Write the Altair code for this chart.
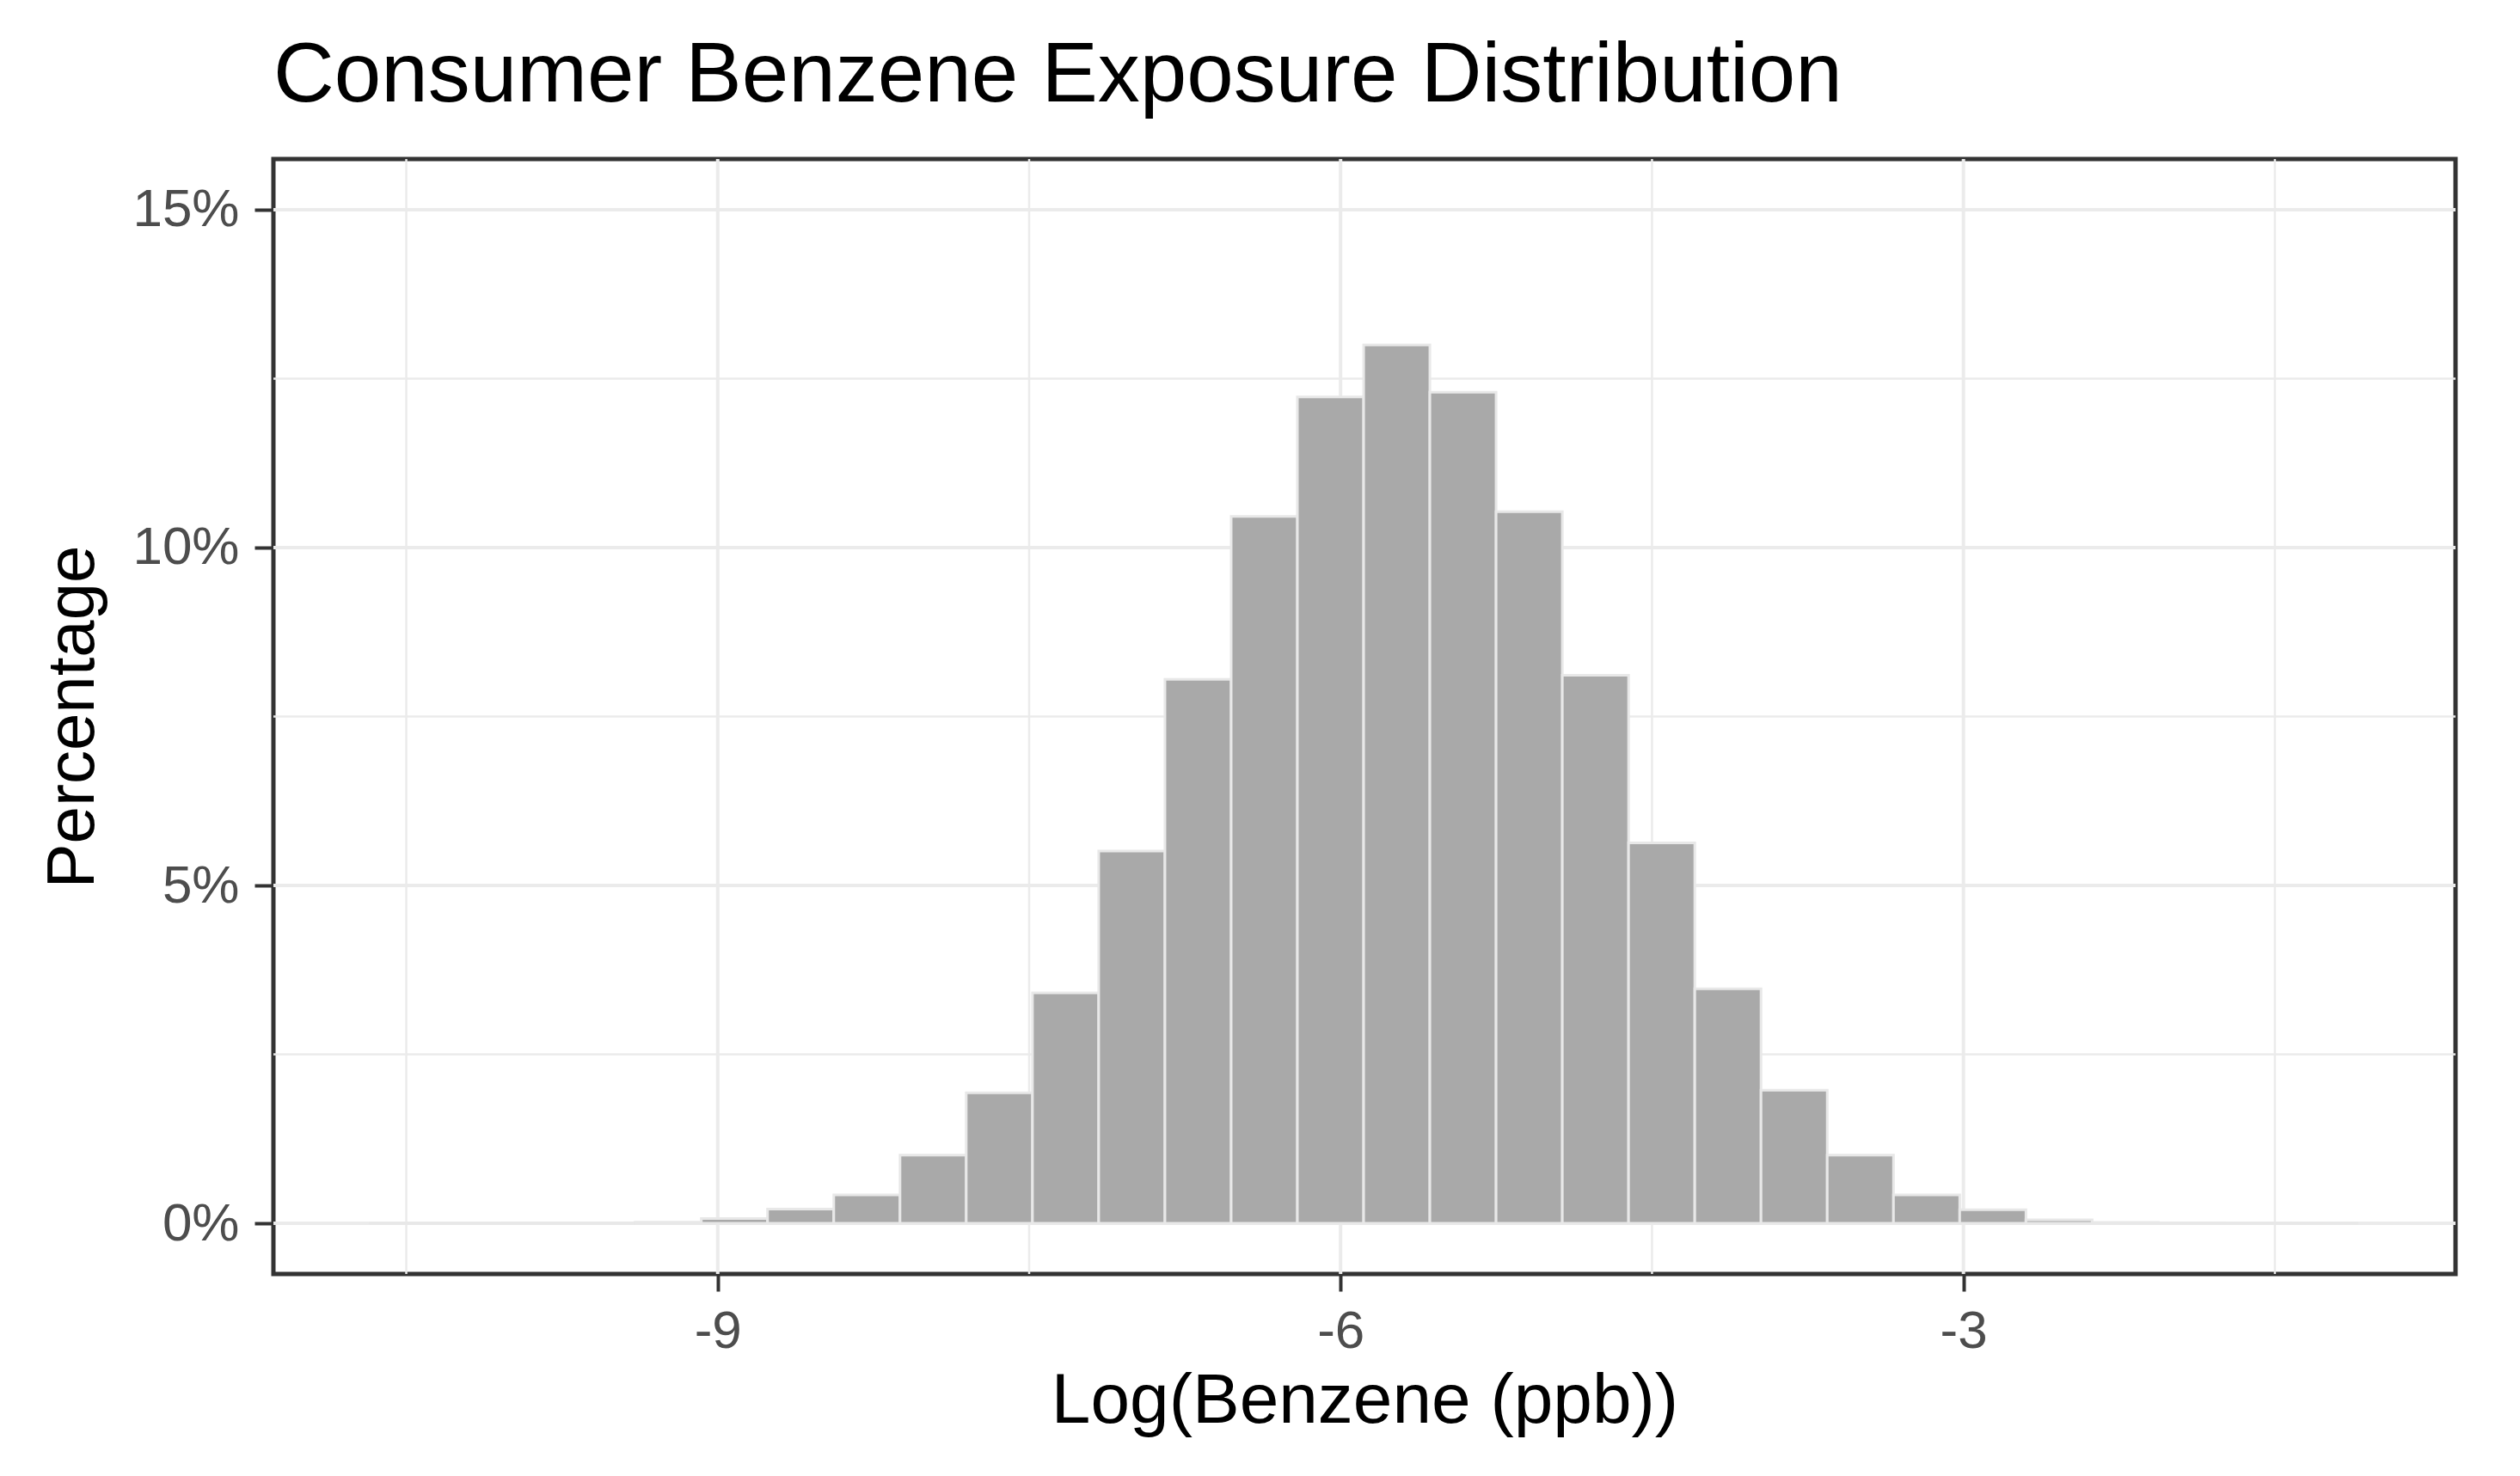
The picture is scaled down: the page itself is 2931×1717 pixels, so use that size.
import altair as alt
import pandas as pd

# Histogram bins (30 bins)
BIN_START = -10.674
BIN_WIDTH = 0.319
PERCENT = [0.002, 0.003, 0.005, 0.008, 0.015, 0.07, 0.21, 0.42, 1.01, 1.93,
           3.41, 5.51, 8.05, 10.46, 12.23, 13.0, 12.30, 10.53, 8.11, 5.63,
           3.47, 1.97, 1.01, 0.42, 0.20, 0.05, 0.012, 0.006, 0.003, 0.002]

X_MAJOR = [-9, -6, -3]
X_MINOR = [-10.5, -7.5, -4.5, -1.5]
Y_MAJOR = [0, 5, 10, 15]
Y_MINOR = [2.5, 7.5, 12.5]

TITLE = "Consumer Benzene Exposure Distribution"
X_TITLE = "Log(Benzene (ppb))"
Y_TITLE = "Percentage"

FONT = "Liberation Sans"
W, H = 2538, 1297

df = pd.DataFrame({
    "start": [BIN_START + i * BIN_WIDTH for i in range(len(PERCENT))],
    "end": [BIN_START + (i + 1) * BIN_WIDTH for i in range(len(PERCENT))],
    "pct": PERCENT,
    "base": [0.0] * len(PERCENT),
})

xscale = alt.Scale(domain=[-11.14, -0.63], nice=False, zero=False)
yscale = alt.Scale(domain=[-0.75, 15.75], nice=False, zero=False)

xaxis = alt.Axis(
    values=X_MAJOR, title=X_TITLE, grid=False, domain=False,
    ticks=True, tickSize=20, tickWidth=4, tickColor="#333333",
    labelExpr="datum.value + ''", labelFont=FONT, labelFontSize=62,
    labelColor="#4D4D4D", labelPadding=16,
    titleFont=FONT, titleFontSize=82, titleFontWeight="normal", titleColor="#000000",
    titleX=W / 2, titleY=172, titleBaseline="alphabetic", titleAlign="center")
yaxis = alt.Axis(
    values=Y_MAJOR, title=Y_TITLE, grid=False, domain=False,
    ticks=True, tickSize=22, tickWidth=4, tickColor="#333333",
    labelExpr="datum.value + '%'", labelFont=FONT, labelFontSize=62,
    labelColor="#4D4D4D", labelPadding=18,
    titleFont=FONT, titleFontSize=78, titleFontWeight="normal", titleColor="#000000",
    titleX=-210, titleY=H / 2, titleBaseline="alphabetic", titleAlign="center",
    titleAngle=270)

GRID = "#EBEBEB"

vminor = alt.Chart(pd.DataFrame({"gx": X_MINOR})).mark_rule(color=GRID, strokeWidth=2.5).encode(
    x=alt.X("gx:Q", scale=xscale, axis=xaxis))
vmajor = alt.Chart(pd.DataFrame({"gx": X_MAJOR})).mark_rule(color=GRID, strokeWidth=4).encode(
    x=alt.X("gx:Q", scale=xscale, axis=xaxis))
hminor = alt.Chart(pd.DataFrame({"gy": Y_MINOR})).mark_rule(color=GRID, strokeWidth=2.5).encode(
    y=alt.Y("gy:Q", scale=yscale, axis=yaxis))
hmajor = alt.Chart(pd.DataFrame({"gy": Y_MAJOR})).mark_rule(color=GRID, strokeWidth=4).encode(
    y=alt.Y("gy:Q", scale=yscale, axis=yaxis))

bars = alt.Chart(df).mark_rect(fill="#A9A9A9", stroke="#E8E8E8", strokeWidth=3).encode(
    x=alt.X("start:Q", scale=xscale, axis=xaxis),
    x2="end:Q",
    y=alt.Y("pct:Q", scale=yscale, axis=yaxis),
    y2="base:Q",
)

chart = alt.layer(vminor, vmajor, hminor, hmajor, bars).properties(
    width=W, height=H,
    title=alt.TitleParams(TITLE, anchor="start", frame="group", font=FONT,
                          fontSize=98, fontWeight="normal", color="#000000",
                          baseline="alphabetic", offset=64, dy=97),
    autosize=alt.AutoSizeParams(type="none"),
    padding={"left": 310, "top": 177, "right": 67, "bottom": 227},
    background="white",
).configure_view(stroke="#333333", strokeWidth=5, fill="white")

chart.save("out.html", embed_options={"renderer": "svg", "actions": False})
